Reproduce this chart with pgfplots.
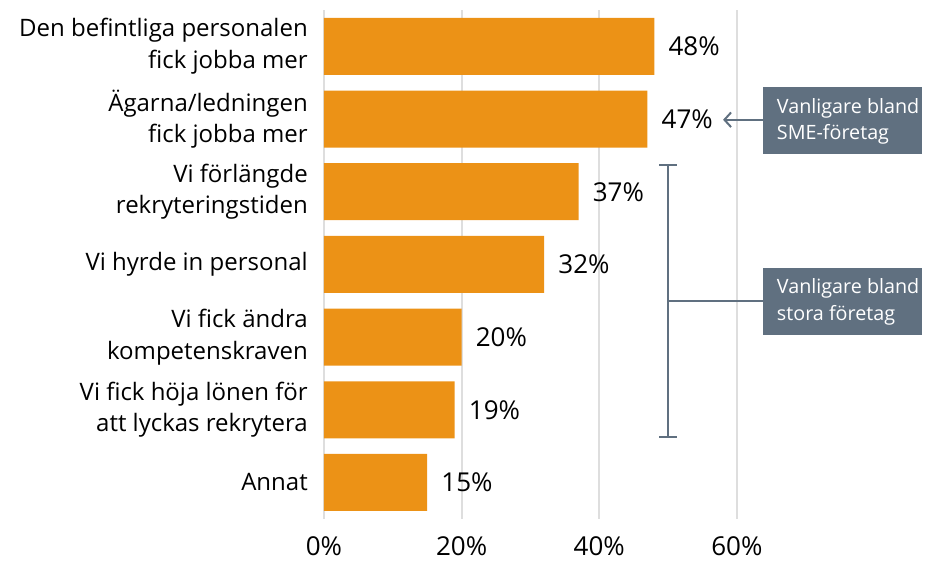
\documentclass[border=0pt]{standalone}
\usepackage{pgfplots}
\pgfplotsset{compat=1.18}
\usepackage{fontspec}
\setmainfont{Open Sans}
\usetikzlibrary{arrows.meta}
\definecolor{barc}{RGB}{236,146,22}
\definecolor{note}{RGB}{96,112,128}
\definecolor{gridc}{RGB}{222,222,222}
\begin{document}
\begin{tikzpicture}
\begin{axis}[
  scale only axis, width=309.75pt, height=381.75pt,
  xbar, bar width=42.75pt,
  xmin=0, xmax=60, ymin=-0.5, ymax=6.5, y dir=reverse,
  axis line style={draw=none},
  major tick length=0pt,
  xtick={0,20,40,60},
  xticklabel={\pgfmathprintnumber{\tick}\%},
  /pgf/number format/assume math mode=true,
  xticklabel style={font=\fontsize{19.5}{22}\selectfont, inner sep=0pt, yshift=-13.5pt},
  ytick={0,...,6},
  yticklabels={{Den befintliga personalen\\fick jobba mer},{Ägarna/ledningen\\fick jobba mer},{Vi förlängde\\rekryteringstiden},{Vi hyrde in personal},{Vi fick ändra\\kompetenskraven},{Vi fick höja lönen för\\att lyckas rekrytera},{Annat}},
  yticklabel style={align=right, font=\fontsize{18}{23.8}\selectfont, inner sep=0pt, xshift=-12pt},
  xmajorgrids, grid style={gridc, line width=1.5pt},
  clip=false,
  nodes near coords={\pgfmathprintnumber{\pgfplotspointmeta}\%},
  nodes near coords style={anchor=west, inner sep=0pt, xshift=10.5pt, font=\fontsize{19.5}{22}\selectfont, text=black},
  point meta=x,
]
\addplot[fill=barc, draw=none] coordinates {(48,0) (47,1) (37,2) (32,3) (20,4) (19,5) (15,6)};
% SME annotation
\fill[note] (axis cs:63.8,0.56) rectangle (axis cs:86.9,1.48);
\node[anchor=west, align=left, text=white, font=\fontsize{14.8}{20}\selectfont, inner sep=0pt] at (axis cs:65.8,1.03) {Vanligare bland\\SME-företag};
\draw[note, line width=1.5pt, -{Straight Barb[length=5pt, width=11pt, line width=1.5pt]}] (axis cs:63.8,1.01) -- (axis cs:58.0,1.01);
% large companies annotation
\draw[note, line width=1.5pt] (axis cs:50.05,1.63) -- (axis cs:50.05,5.38);
\draw[note, line width=1.5pt] (axis cs:48.75,1.63) -- (axis cs:51.35,1.63);
\draw[note, line width=1.5pt] (axis cs:48.75,5.38) -- (axis cs:51.35,5.38);
\draw[note, line width=1.5pt] (axis cs:50.05,3.51) -- (axis cs:63.8,3.51);
\fill[note] (axis cs:63.8,3.05) rectangle (axis cs:86.9,3.97);
\node[anchor=west, align=left, text=white, font=\fontsize{14.8}{20}\selectfont, inner sep=0pt] at (axis cs:65.8,3.52) {Vanligare bland\\stora företag};
\coordinate (BL) at (axis cs:-47.09,7.096);
\coordinate (TR) at (axis cs:87.35,-0.6376);
\end{axis}
\pgfresetboundingbox
\useasboundingbox (BL) rectangle (TR);
\end{tikzpicture}
\end{document}
